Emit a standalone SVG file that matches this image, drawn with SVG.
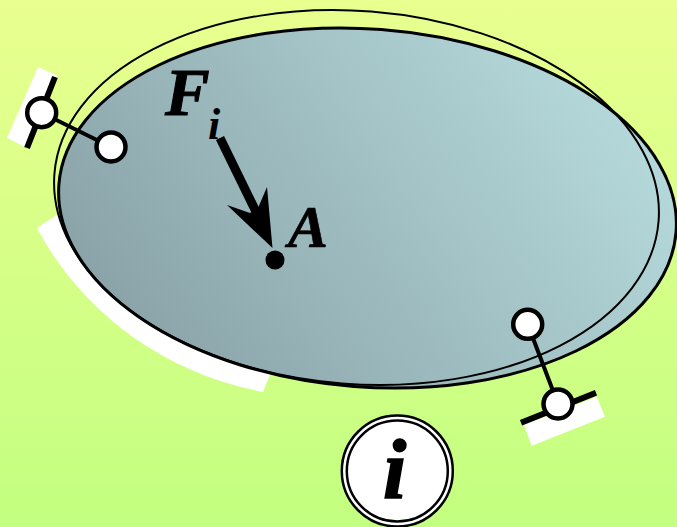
<svg xmlns="http://www.w3.org/2000/svg" width="677" height="527" viewBox="0 0 677 527">
<style>
.t{font-family:"Liberation Serif","Times New Roman",serif;font-weight:bold;font-style:italic;fill:#000}
.k{fill:#fff;stroke:#000;stroke-width:4.5}
.l{stroke:#000;fill:none}
</style>
<defs>
<linearGradient id="bg" x1="0" y1="0" x2="0" y2="1"><stop offset="0" stop-color="#e9ff8f"/><stop offset="1" stop-color="#c3ff80"/></linearGradient>
<linearGradient id="body" gradientUnits="userSpaceOnUse" x1="170" y1="390" x2="570" y2="50"><stop offset="0" stop-color="#8aa3a8"/><stop offset="1" stop-color="#b4d8da"/></linearGradient>
</defs>
<rect id="background" width="677" height="527" fill="url(#bg)"/>
<g id="ground">
<path d="M37 228C76 302 153 371 263 392L271 372L58 214Z" fill="#fff"/>
</g>
<g id="body-main">
<ellipse cx="367.500" cy="208" rx="309.500" ry="179" transform="rotate(4.4 367.500 208)" fill="url(#body)" stroke="#000" stroke-width="3"/>
</g>
<g id="body-displaced">
<ellipse cx="356.500" cy="197.500" rx="303" ry="186.500" transform="rotate(4.500 356.500 197.500)" fill="none" stroke="#000" stroke-width="2"/>
</g>
<g id="supports">
<path d="M38 67L58 76L25 147L7 138Z" fill="#fff"/>
<path d="M524 425L531.700 445.700L605 416.700L596.700 396.700Z" fill="#fff"/>
<path class="l" d="M55 77L27 148" stroke-width="6"/>
<path class="l" d="M521 422.700L596 392.700" stroke-width="6"/>
</g>
<g id="connectors">
<path class="l" d="M41.700 112.700L111 147" stroke-width="4"/>
<path class="l" d="M527.700 324.300L558 404" stroke-width="4"/>
<path class="l" d="M220 138L262 224" stroke-width="9"/>
<path d="M272.500 248L227 205L250 213L258 208L267 187Z" fill="#000"/>
</g>
<g id="joint-1"><circle class="k" cx="41.700" cy="112.700" r="14.500"/></g>
<g id="joint-2"><circle class="k" cx="111" cy="147" r="14.500"/></g>
<g id="joint-3"><circle class="k" cx="527.700" cy="324.300" r="14.500"/></g>
<g id="joint-4"><circle class="k" cx="558" cy="404" r="14.500"/></g>
<g id="point-A"><circle cx="275" cy="260" r="9.500" fill="#000"/>
<text class="t" x="288" y="247" font-size="60" stroke="#000" stroke-width="0.6">A</text></g>
<g id="force-label">
<text class="t" x="165" y="114.500" font-size="67" stroke="#000" stroke-width="1">F</text>
<text class="t" x="208" y="138.500" font-size="44">i</text>
</g>
<g id="info">
<circle cx="397.300" cy="471" r="55.500" fill="#fff" stroke="#000" stroke-width="2.500"/>
<circle cx="397.300" cy="471" r="50.500" fill="#fff" stroke="#000" stroke-width="2.500"/>
<text class="t" x="383" y="498" font-size="84" stroke="#000" stroke-width="1.500">i</text>
</g>
</svg>
